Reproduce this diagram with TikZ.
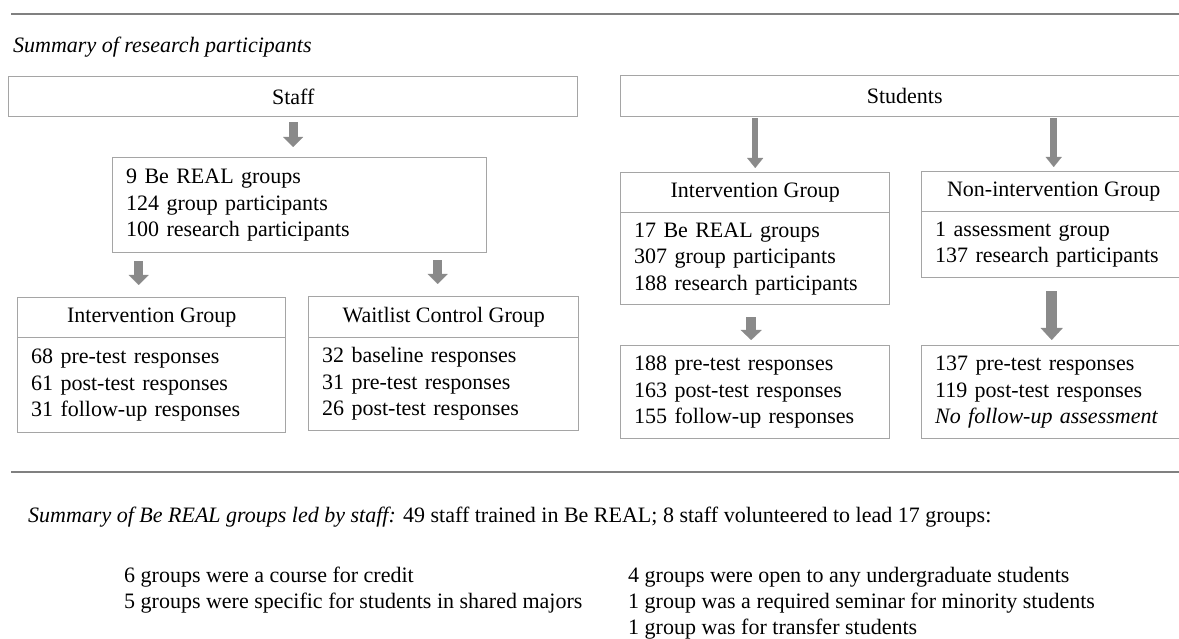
\documentclass[tikz,border=0pt]{standalone}
\usepackage{fontspec}
\setmainfont{Liberation Serif}
\usetikzlibrary{arrows.meta,calc}
\definecolor{boxgray}{RGB}{165,165,165}
\definecolor{rulegray}{RGB}{128,128,128}
\definecolor{arrgray}{RGB}{138,138,138}
\tikzset{
  hdr/.style={draw=boxgray, line width=1.4pt, rectangle, inner sep=0pt, anchor=north west, align=center},
  body/.style={draw=boxgray, line width=1.4pt, rectangle, inner xsep=13.5pt, inner ysep=0pt, anchor=north west, align=left},
  arrA/.style={draw=arrgray, line width=9pt, -{Triangle[width=20pt,length=10pt,line width=0.1pt]}},
  arrS/.style={draw=arrgray, line width=6.5pt, -{Triangle[width=16pt,length=10pt,line width=0.1pt]}},
  arrB/.style={draw=arrgray, line width=10pt, -{Triangle[width=21pt,length=10pt,line width=0.1pt]}},
  arrN/.style={draw=arrgray, line width=11pt, -{Triangle[width=22pt,length=12pt,line width=0.1pt]}},
  rulestyle/.style={draw=rulegray, line width=2.2pt},
  txt/.style={anchor=base west, inner sep=0pt}
}
\begin{document}
\begin{tikzpicture}[x=1pt,y=-1pt,font=\fontsize{22}{26.5}\selectfont]
\useasboundingbox (0,0) rectangle (1179,639);
\clip (0,0) rectangle (1179,639);
\fill[white] (0,0) rectangle (1179,639);

% rules
\draw[rulestyle] (11,14) -- (1179,14);
\draw[rulestyle] (11,472) -- (1179,472);

% titles
\node[txt] (title) at (13,53) {\textit{Summary of research participants}};

% Staff side
\node[hdr, minimum width=569pt, minimum height=40pt] (staff) at (8,76) {Staff};
\node[body, text width=347pt, minimum height=95pt] (bereal) at (112,157)
  {9 Be REAL groups\\124 group participants\\100 research participants};
\node[hdr, minimum width=268pt, minimum height=40pt] (ighdr) at (17,297) {Intervention Group};
\node[body, text width=241pt, minimum height=95pt] (igbody) at (17,337)
  {68 pre-test responses\\61 post-test responses\\31 follow-up responses};
\node[hdr, minimum width=270pt, minimum height=41pt] (wlhdr) at (308,296) {Waitlist Control Group};
\node[body, text width=243pt, minimum height=93pt] (wlbody) at (308,337)
  {32 baseline responses\\31 pre-test responses\\26 post-test responses};

% Students side
\node[hdr, minimum width=568pt, minimum height=41pt] (students) at (620,75) {Students};
\node[hdr, minimum width=269pt, minimum height=40pt] (sihdr) at (620,172) {Intervention Group};
\node[body, text width=242pt, minimum height=92pt] (sibody) at (620,212)
  {17 Be REAL groups\\307 group participants\\188 research participants};
\node[hdr, minimum width=264pt, minimum height=40pt] (nihdr) at (921,171) {Non-intervention Group};
\node[body, text width=237pt, minimum height=66pt] (nibody) at (921,211)
  {1 assessment group\\137 research participants};
\node[body, text width=242pt, minimum height=93pt] (siresp) at (620,345)
  {188 pre-test responses\\163 post-test responses\\155 follow-up responses};
\node[body, text width=237pt, minimum height=93pt] (niresp) at (921,345)
  {137 pre-test responses\\119 post-test responses\\\textit{No follow-up assessment}};

% arrows
\draw[arrA, shorten <=5pt, shorten >=10pt] (staff.south) -- (staff.south |- bereal.north);
\draw[arrA, shorten <=8pt, shorten >=12pt] ($(bereal.south -| ighdr.north)+(-13,0)$) -- ($(ighdr.north)+(-13,0)$);
\draw[arrA, shorten <=7pt, shorten >=12pt] ($(bereal.south -| wlhdr.north)+(-6,0)$) -- ($(wlhdr.north)+(-6,0)$);
\draw[arrS, shorten <=1pt, shorten >=4pt] (students.south -| sihdr.north) -- (sihdr.north);
\draw[arrS, shorten <=1pt, shorten >=4pt] (students.south -| nihdr.north) -- (nihdr.north);
\draw[arrB, shorten <=12pt, shorten >=5pt] ($(sibody.south)+(-4,0)$) -- ($(siresp.north)+(-4,0)$);
\draw[arrN, shorten <=13pt, shorten >=5pt] ($(nibody.south)+(-2,0)$) -- ($(niresp.north)+(-2,0)$);

% bottom summary
\node[txt] (summary) at (28,522) {\textit{Summary of Be REAL groups led by staff:} 49 staff trained in Be REAL; 8 staff volunteered to lead 17 groups:};
\node[txt] (l1) at (124,582) {6 groups were a course for credit};
\node[txt] (l2) at (124,608) {5 groups were specific for students in shared majors};
\node[txt] (r1) at (628,582) {4 groups were open to any undergraduate students};
\node[txt] (r2) at (628,608) {1 group was a required seminar for minority students};
\node[txt] (r3) at (628,634) {1 group was for transfer students};
\end{tikzpicture}
\end{document}
